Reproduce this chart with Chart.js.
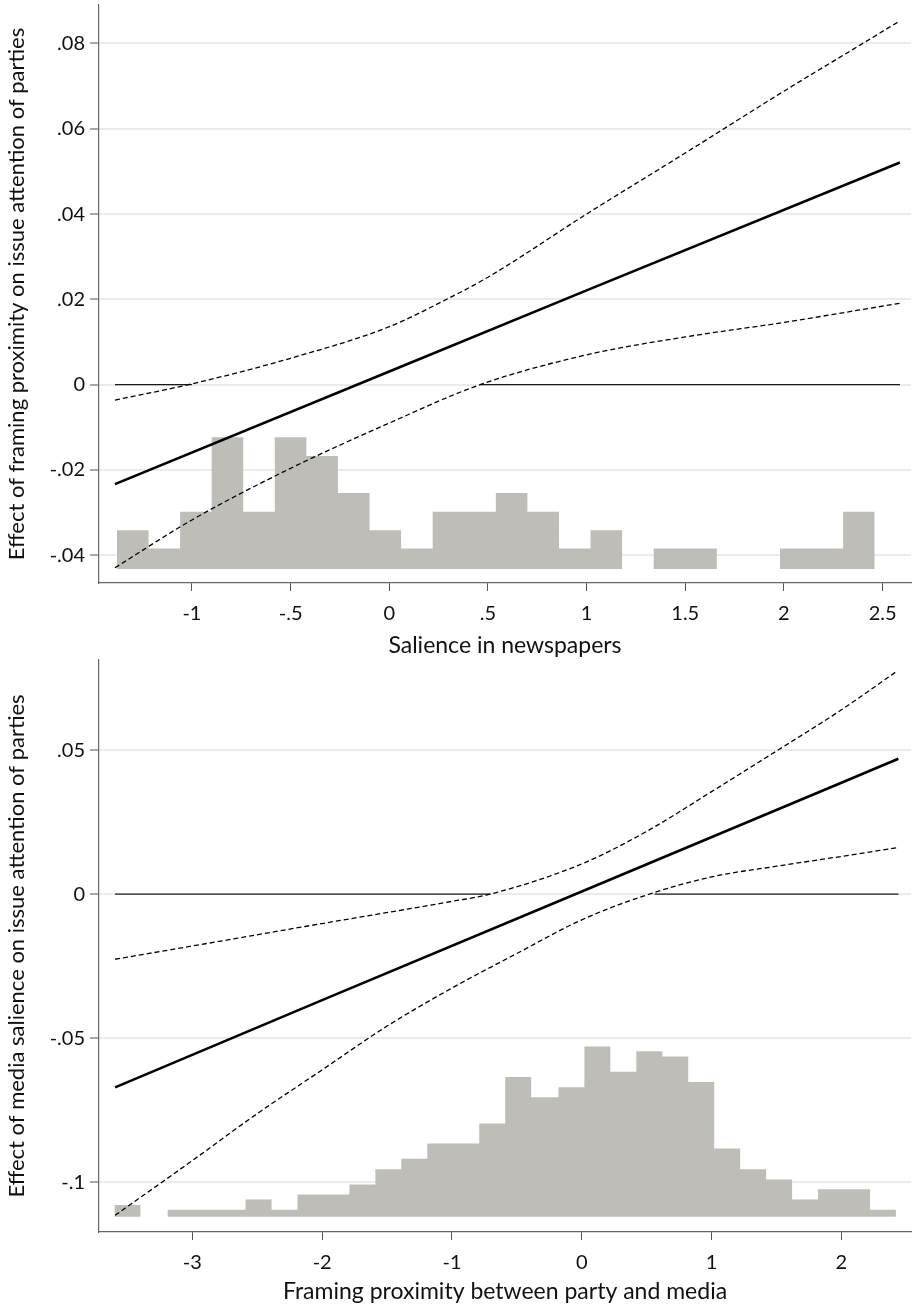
<!DOCTYPE html>
<html>
<head>
<meta charset="utf-8">
<title>Conditional effects</title>
<script src="https://cdn.jsdelivr.net/npm/chart.js@4"></script>
<style>
  body { margin: 0; background: #ffffff; }
  .panel { position: absolute; left: 0; width: 912px; }
  #topPanel { top: 0; height: 668px; }
  #bottomPanel { top: 646px; height: 660px; }
</style>
</head>
<body>
<div class="panel" id="topPanel"><canvas id="topChart"></canvas></div>
<div class="panel" id="bottomPanel"><canvas id="bottomChart"></canvas></div>

<script>
// ---------- top panel: effect of framing proximity by salience in newspapers ----------
const topEffectX = [-1.39, 0, 1.0, 2.588];
const topEffect  = [-0.0233, 0.0031, 0.0221, 0.0521];
const topUpperX  = [-1.39, -1.0, -0.5, 0, 0.29, 0.5, 1.0, 1.5, 2.0, 2.4, 2.588];
const topUpper   = [-0.0036, 0.0002, 0.0062, 0.0136, 0.0200, 0.0252, 0.0400, 0.0543, 0.0688, 0.0800, 0.0853];
const topLowerX  = [-1.39, -1.0, -0.5, 0, 0.46, 1.0, 1.5, 2.0, 2.588];
const topLower   = [-0.0429, -0.0317, -0.0196, -0.0090, 0, 0.0070, 0.0112, 0.0146, 0.0191];
const topZeroSpans = [[-1.39, -1.0], [0.46, 2.588]];

const topBinEdges = [-1.38, -1.22, -1.06, -0.90, -0.74, -0.58, -0.42, -0.26, -0.10, 0.06, 0.22, 0.38,
                     0.54, 0.70, 0.86, 1.02, 1.18, 1.34, 1.50, 1.66, 1.82, 1.98, 2.14, 2.30, 2.46];
const topBarTops  = [-0.0341, -0.0384, -0.0298, -0.0123, -0.0298, -0.0123, -0.0167, -0.0254, -0.0341, -0.0384,
                     -0.0298, -0.0298, -0.0254, -0.0298, -0.0384, -0.0341, null, -0.0384, -0.0384, null,
                     null, -0.0384, -0.0384, -0.0298];
const topHistBase = -0.0432;

const topYTicks  = [-0.04, -0.02, 0, 0.02, 0.04, 0.06, 0.08];
const topYLabels = ['-.04', '-.02', '0', '.02', '.04', '.06', '.08'];
const topXTicks  = [-1, -0.5, 0, 0.5, 1, 1.5, 2, 2.5];
const topXLabels = ['-1', '-.5', '0', '.5', '1', '1.5', '2', '2.5'];

// ---------- bottom panel: effect of media salience by framing proximity ----------
const botEffectX = [-3.595, -2, 0, 2, 2.439];
const botEffect  = [-0.0671, -0.0368, 0.0009, 0.0387, 0.0470];
const botUpperX  = [-3.595, -3, -2, -1, -0.706, 0, 0.5, 1.0, 1.5, 2.0, 2.43];
const botUpper   = [-0.0226, -0.0180, -0.0102, -0.0025, 0, 0.0105, 0.0218, 0.0356, 0.0497, 0.0640, 0.0775];
const botLowerX  = [-3.595, -3, -2.5, -2, -1.5, -1, -0.5, 0, 0.52, 1.0, 1.5, 2.0, 2.439];
const botLower   = [-0.1115, -0.0925, -0.0762, -0.0610, -0.0458, -0.0326, -0.0206, -0.0089, 0, 0.0060, 0.0097, 0.0131, 0.0162];
const botZeroSpans = [[-3.595, -0.706], [0.56, 2.439]];

const botBinEdges = [-3.60, -3.40, -3.19, -2.99, -2.79, -2.59, -2.39, -2.19, -1.99, -1.79, -1.59, -1.39, -1.19,
                     -0.99, -0.79, -0.59, -0.39, -0.18, 0.02, 0.22, 0.42, 0.62, 0.82, 1.02, 1.22, 1.42,
                     1.62, 1.82, 2.02, 2.22, 2.42];
const botBarTops  = [-0.1079, null, -0.1096, -0.1096, -0.1096, -0.1060, -0.1096, -0.1043, -0.1043, -0.1008,
                     -0.0955, -0.0919, -0.0866, -0.0866, -0.0796, -0.0635, -0.0705, -0.0670, -0.0529, -0.0617,
                     -0.0545, -0.0564, -0.0652, -0.0883, -0.0955, -0.0991, -0.1060, -0.1025, -0.1025, -0.1096];
const botHistBase = -0.1120;

const botYTicks  = [-0.1, -0.05, 0, 0.05];
const botYLabels = ['-.1', '-.05', '0', '.05'];
const botXTicks  = [-3, -2, -1, 0, 1, 2];
const botXLabels = ['-3', '-2', '-1', '0', '1', '2'];

// shared look
const FONT = 'Lato, "Open Sans", sans-serif';
const HIST_GREY = 'rgb(190,189,183)';

const toPoints = (xs, ys) => xs.map((x, i) => ({ x: x, y: ys[i] }));

// histogram outline as a step path, filled down to the base value
function histPoints(edges, tops, base) {
  const pts = [];
  tops.forEach((t, i) => {
    const h = (t === null) ? base : t;
    pts.push({ x: edges[i], y: h });
    pts.push({ x: edges[i + 1], y: h });
  });
  return pts;
}

// zero reference line, only where the interval excludes zero
function zeroPoints(spans) {
  const pts = [];
  spans.forEach((s, i) => {
    if (i > 0) pts.push({ x: (spans[i - 1][1] + s[0]) / 2, y: null });
    pts.push({ x: s[0], y: 0 }, { x: s[1], y: 0 });
  });
  return pts;
}

function makePanel(canvasId, p) {
  const ctx = document.getElementById(canvasId).getContext('2d');
  return new Chart(ctx, {
    type: 'line',
    data: {
      datasets: [
        { data: p.effect, borderColor: '#000', borderWidth: 2.6, order: 1 },
        { data: p.upper, borderColor: '#000', borderWidth: 1.3, borderDash: [5, 3], cubicInterpolationMode: 'monotone', order: 2 },
        { data: p.lower, borderColor: '#000', borderWidth: 1.3, borderDash: [5, 3], cubicInterpolationMode: 'monotone', order: 2 },
        { data: p.zero, borderColor: '#1a1a1a', borderWidth: 1.2, spanGaps: false, order: 3 },
        { data: p.hist, borderWidth: 0, backgroundColor: HIST_GREY, fill: { value: p.base }, order: 5 }
      ]
    },
    options: {
      responsive: true,
      maintainAspectRatio: false,
      animation: false,
      layout: { padding: p.padding },
      elements: { point: { radius: 0 }, line: { tension: 0 } },
      plugins: { legend: { display: false }, tooltip: { enabled: false } },
      scales: {
        x: {
          type: 'linear',
          min: p.xMin, max: p.xMax,
          afterBuildTicks: s => { s.ticks = p.xTicks.map(v => ({ value: v })); },
          afterFit: s => { s.height = p.xAxisHeight; s.paddingLeft = 0; s.paddingRight = 0; },
          grid: { drawOnChartArea: false, drawTicks: true, tickLength: 8, tickColor: '#555', tickWidth: 1 },
          border: { color: '#666', width: 1.2 },
          ticks: { callback: (v, i) => p.xLabels[i], color: '#111', font: { family: FONT, size: 20 }, padding: 11, maxRotation: 0, autoSkip: false },
          title: { display: true, text: p.xTitle, color: '#111', font: { family: FONT, size: 23 }, padding: { top: 0, bottom: p.xTitlePad } }
        },
        y: {
          type: 'linear',
          min: p.yMin, max: p.yMax,
          afterBuildTicks: s => { s.ticks = p.yTicks.map(v => ({ value: v })); },
          afterFit: s => { s.width = 99; s.paddingTop = 0; s.paddingBottom = 0; },
          grid: { color: '#ebebeb', lineWidth: 2, drawTicks: true, tickLength: 9, tickColor: '#555', tickWidth: 1 },
          border: { color: '#666', width: 1.2 },
          ticks: { callback: (v, i) => p.yLabels[i], color: '#111', font: { family: FONT, size: 20 }, padding: 5, autoSkip: false },
          title: { display: true, text: p.yTitle, color: '#111', font: { family: FONT, size: 22 }, padding: { top: 4, bottom: 0 } }
        }
      }
    }
  });
}

makePanel('topChart', {
  effect: toPoints(topEffectX, topEffect),
  upper: toPoints(topUpperX, topUpper),
  lower: toPoints(topLowerX, topLower),
  zero: zeroPoints(topZeroSpans),
  hist: histPoints(topBinEdges, topBarTops, topHistBase),
  base: topHistBase,
  xMin: -1.471, xMax: 2.644, yMin: -0.04648, yMax: 0.0890,
  xTicks: topXTicks, xLabels: topXLabels, yTicks: topYTicks, yLabels: topYLabels,
  xTitle: 'Salience in newspapers',
  yTitle: 'Effect of framing proximity on issue attention of parties',
  xAxisHeight: 85,
  xTitlePad: 9,
  padding: { top: 5, right: 1, left: 0, bottom: 0 }
});

makePanel('bottomChart', {
  effect: toPoints(botEffectX, botEffect),
  upper: toPoints(botUpperX, botUpper),
  lower: toPoints(botLowerX, botLower),
  zero: zeroPoints(botZeroSpans),
  hist: histPoints(botBinEdges, botBarTops, botHistBase),
  base: botHistBase,
  xMin: -3.719, xMax: 2.536, yMin: -0.1173, yMax: 0.0813,
  xTicks: botXTicks, xLabels: botXLabels, yTicks: botYTicks, yLabels: botYLabels,
  xTitle: 'Framing proximity between party and media',
  yTitle: 'Effect of media salience on issue attention of parties',
  xAxisHeight: 74,
  xTitlePad: 1,
  padding: { top: 14, right: 1, left: 0, bottom: 0 }
});
</script>
</body>
</html>
